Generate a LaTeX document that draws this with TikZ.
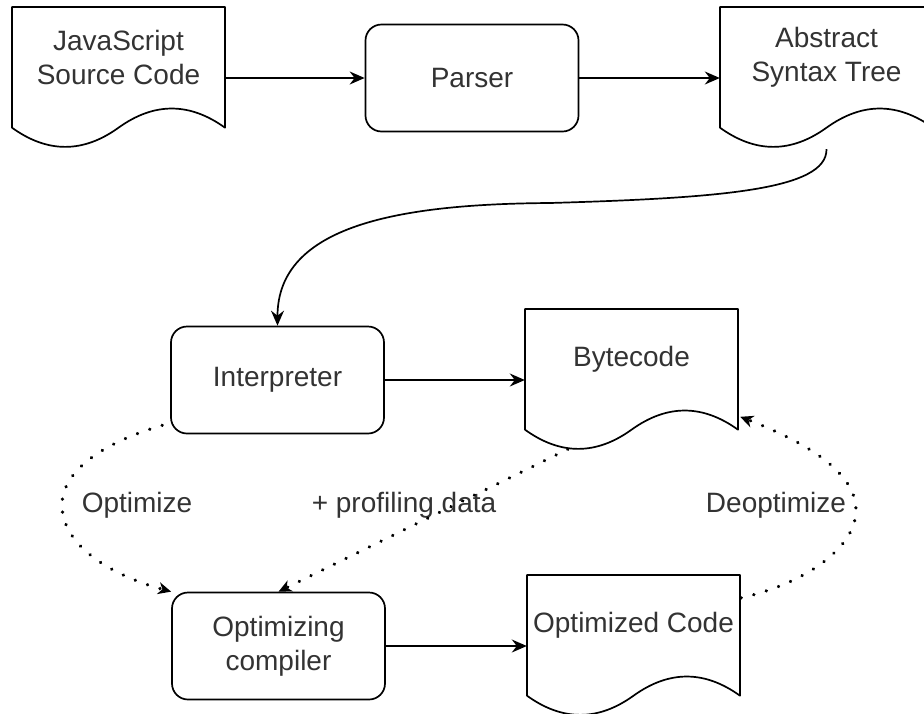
\documentclass[tikz,border=0pt]{standalone}
\usepackage{fontspec}
\setmainfont{Liberation Sans}
\usetikzlibrary{arrows.meta,calc}
\newcommand{\docshape}[4]{%
  \begin{scope}[shift={(#2,#3)}]
    \draw[docline,fill=white] (0,0) -- (213,0) -- (213,120.7)
      .. controls (177.5,95.14) and (142,95.14) .. (106.5,120.7)
      .. controls (71,146.26) and (35.5,146.26) .. (0,120.7) -- cycle;
    \node[docbb] (#1) at (106.5,71) {};
    \node[doctext] (#1-t) at (106.5,50.5) {#4};
  \end{scope}
}
\begin{document}
\begin{tikzpicture}[x=1pt,y=-1pt,
  every node/.style={font=\fontsize{28}{33.6}\selectfont, text=black!80},
  proc/.style={draw=black, line width=1.7pt, rounded corners=16pt, minimum width=213pt, minimum height=107pt, inner sep=0pt, align=center},
  docbb/.style={minimum width=213pt, minimum height=142pt, inner sep=0pt},
  doctext/.style={align=center, inner sep=0pt},
  docline/.style={draw=black, line width=1.7pt, line join=round},
  arr/.style={draw=black, line width=1.7pt, -{Stealth[length=15pt,width=13pt,inset=5pt]}},
  dotarr/.style={draw=black, line width=3.6pt, line cap=round, dash pattern=on 0.01pt off 13pt, -{Stealth[length=13pt,width=12pt,inset=4pt]}}
]
\useasboundingbox (0,0) rectangle (924,713);
\fill[white] (0,0) rectangle (924,713);
\clip (0,0) rectangle (924,713);

% top row
\docshape{js}{12}{7}{JavaScript\\Source Code}
\node[proc] (parser) at (472,78) {Parser};
\docshape{ast}{720}{7}{Abstract\\Syntax Tree}

% middle row
\node[proc] (interp) at (277.5,380) {Interpreter};
\docshape{bytecode}{525}{309}{Bytecode}

% bottom row
\node[proc] (optc) at (278.5,646) {Optimizing\\compiler};
\docshape{optimized}{527}{575}{Optimized Code}

% labels
\node (lopt) at (137,505) {Optimize};
\node (lprof) at (404,505) {+ profiling data};
\node (ldeopt) at (776,505) {Deoptimize};

% solid connectors
\draw[arr] (js.east) -- (parser.west);
\draw[arr] (parser.east) -- (ast.west);
\draw[arr] (interp.east) -- (bytecode.west);
\draw[arr] (optc.east) -- (optimized.west);
\draw[arr] (ast.south) .. controls (827,190) and (720,198) .. (550,203)
  .. controls (400,204) and (277.5,225) .. (interp.north);

% dotted connectors
\draw[dotarr] ($(interp.south west)+(-8,-9)$) .. controls (105,442) and (62,470) .. (62,505)
  .. controls (62,545) and (110,575) .. (optc.north west);
\draw[dotarr] ($(bytecode.south west)+(43,-2)$) -- (optc.north);
\draw[dotarr] ($(optimized.north east)+(1,23)$) .. controls (800,585) and (856,550) .. (856,510)
  .. controls (856,470) and (800,440) .. ($(bytecode.north east)+(2,108)$);
\end{tikzpicture}
\end{document}
